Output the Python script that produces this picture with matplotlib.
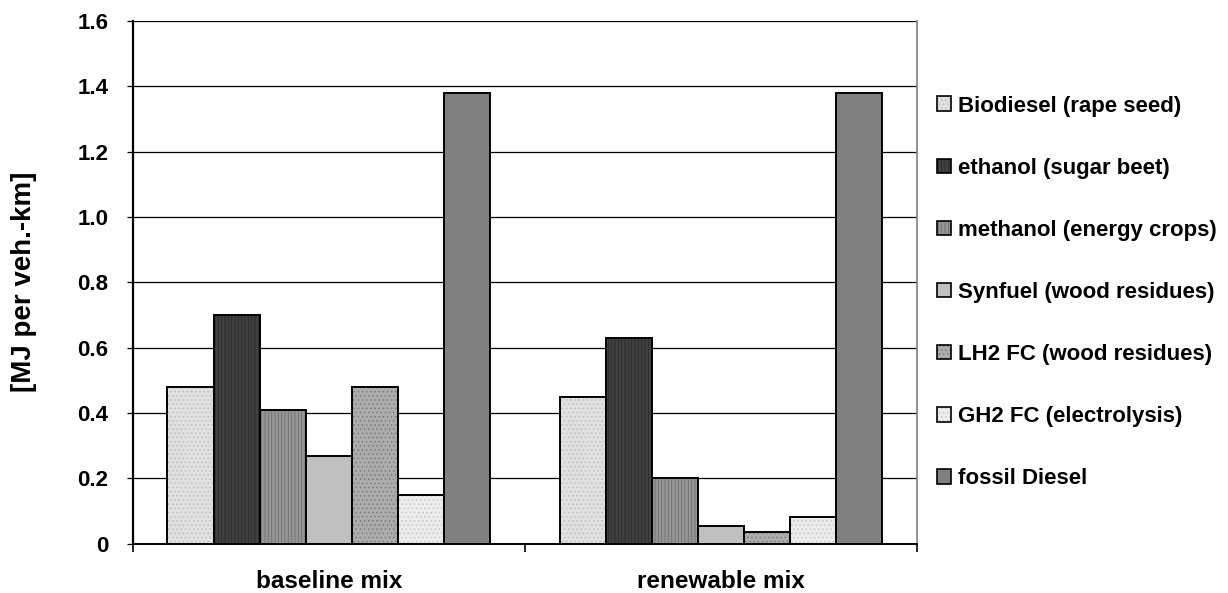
import matplotlib
matplotlib.use("Agg")
import matplotlib.pyplot as plt
from matplotlib.patches import Patch
import numpy as np

# energy demand per vehicle-km, two fuel mix scenarios
groups = ["baseline mix", "renewable mix"]
fuels = ["Biodiesel (rape seed)", "ethanol (sugar beet)", "methanol (energy crops)",
         "Synfuel (wood residues)", "LH2 FC (wood residues)", "GH2 FC (electrolysis)",
         "fossil Diesel"]
baseline = [0.48, 0.70, 0.41, 0.27, 0.48, 0.15, 1.38]
renewable = [0.45, 0.63, 0.20, 0.055, 0.037, 0.083, 1.38]
yticks = [0, 0.2, 0.4, 0.6, 0.8, 1.0, 1.2, 1.4, 1.6]
ytick_labels = ["0", "0.2", "0.4", "0.6", "0.8", "1.0", "1.2", "1.4", "1.6"]

# fill colour, hatch, hatch colour (Excel-like fill patterns)
styles = [
    ("#e0e0e0", "....", "#b8b8b8"),
    ("#404040", "|||||", "#262626"),
    ("#959595", "|||||", "#6a6a6a"),
    ("#c0c0c0", "", "#c0c0c0"),
    ("#acacac", "....", "#747474"),
    ("#ececec", "....", "#c0c0c0"),
    ("#808080", "", "#808080"),
]

plt.rcParams["font.family"] = ["Liberation Sans", "DejaVu Sans"]
plt.rcParams["font.weight"] = "bold"
plt.rcParams["hatch.linewidth"] = 0.5

fig = plt.figure(figsize=(12.28, 5.93), dpi=100)
ax = fig.add_axes([0.108, 0.083, 0.639, 0.882])

values = np.array([baseline, renewable])
x = np.arange(len(groups))
width = 0.1175
offsets = (np.arange(len(fuels)) - (len(fuels) - 1) / 2) * width

handles = []
for i, (fc, hatch, hc) in enumerate(styles):
    ax.bar(x + offsets[i], values[:, i], width, color=fc, hatch=hatch,
           edgecolor=hc, linewidth=0, zorder=2)
    ax.bar(x + offsets[i], values[:, i], width, fill=False,
           edgecolor="black", linewidth=1.4, zorder=3)
    handles.append((Patch(facecolor=fc, hatch=hatch, edgecolor=hc, linewidth=0),
                    Patch(fill=False, edgecolor="black", linewidth=1.2)))

ax.set_xlim(-0.5, 1.5)
ax.set_ylim(0, 1.6)
ax.set_yticks(yticks)
ax.set_yticklabels(ytick_labels, fontsize=16, fontweight="bold")
ax.yaxis.grid(True, color="black", linewidth=0.9, zorder=0)
ax.set_axisbelow(True)

# category labels centred, tick marks at the group boundaries
ax.set_xticks([-0.5, 0.5, 1.5])
ax.set_xticklabels([])
ax.set_xticks(x, minor=True)
ax.set_xticklabels(groups, minor=True, fontsize=17.5, fontweight="bold")
ax.tick_params(axis="x", which="minor", length=0, pad=19)
ax.tick_params(axis="x", which="major", length=6, width=1.2, direction="out")
ax.tick_params(axis="y", length=4.5, width=0.9, direction="out", pad=13)

ax.set_ylabel("[MJ per veh.-km]", fontsize=20, fontweight="bold")
ax.yaxis.set_label_coords(-0.122, 0.5)

ax.spines["left"].set_linewidth(1.6)
ax.spines["bottom"].set_linewidth(1.4)
ax.spines["top"].set_visible(False)
ax.spines["right"].set_color("#808080")
ax.spines["right"].set_linewidth(1.2)

fig.legend(handles, fuels, loc="center left", bbox_to_anchor=(0.763, 0.507),
           frameon=False, prop={"weight": "bold", "size": 16},
           handlelength=0.63, handleheight=0.63, handletextpad=0.3,
           labelspacing=1.85, borderaxespad=0, borderpad=0)

fig.savefig("out.png", dpi=100)
